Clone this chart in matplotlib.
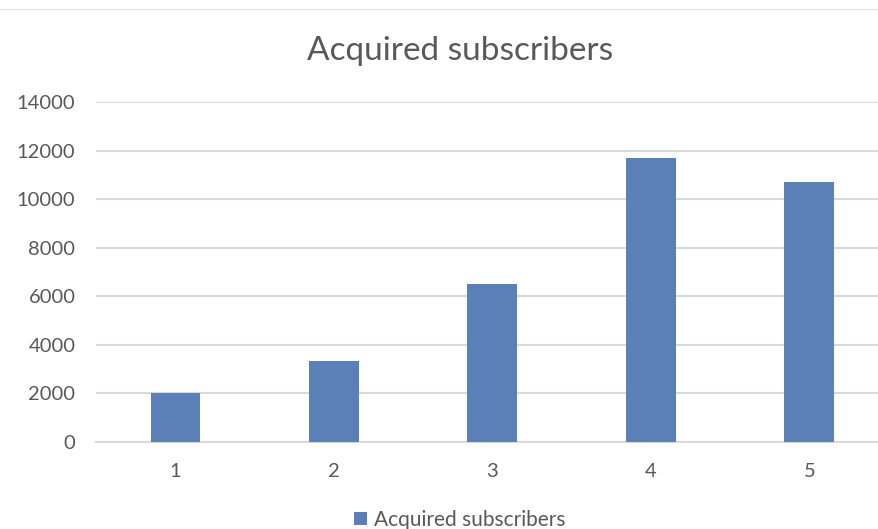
import numpy as np
import matplotlib
matplotlib.use("Agg")
import matplotlib.pyplot as plt

# values
periods = ["1", "2", "3", "4", "5"]
subscribers = [2000, 3320, 6500, 11700, 10700]
yticks = [0, 2000, 4000, 6000, 8000, 10000, 12000, 14000]

plt.rcParams['font.family'] = ['Lato', 'DejaVu Sans']
txt = '#595959'
grid = '#d9d9d9'
bar_col = '#5b80b8'

fig = plt.figure(figsize=(8.79, 5.29), dpi=100)
ax = fig.add_axes([0.1095, 0.165, 0.9015, 0.642])

x = np.arange(len(periods))
bars = ax.bar(x, subscribers, width=0.315, color=bar_col, zorder=3,
              label="Acquired subscribers")

ax.set_xlim(-0.5, len(periods) - 0.5)
ax.set_ylim(0, 14000)
ax.set_yticks(yticks)
ax.set_yticklabels([str(t) for t in yticks])
ax.set_xticks(x)
ax.set_xticklabels(periods)

ax.yaxis.grid(True, color=grid, linewidth=1.5, zorder=0)
for s in ['top', 'right', 'left']:
    ax.spines[s].set_visible(False)
ax.spines['bottom'].set_color(grid)
ax.spines['bottom'].set_linewidth(1.5)
ax.tick_params(axis='both', length=0, labelsize=14.5, colors=txt)
ax.tick_params(axis='y', pad=15)
ax.tick_params(axis='x', pad=15)

fig.text(0.523, 0.903, "Acquired subscribers", ha='center', va='center',
         fontsize=24, color=txt)

fig.legend(handles=[bars], loc='center', bbox_to_anchor=(0.523, 0.017),
           frameon=False, fontsize=15, labelcolor=txt,
           handlelength=0.6, handleheight=0.6, handletextpad=0.35)

# thin chart border line near the top
fig.add_artist(plt.Line2D([0, 1], [0.983, 0.983], color='#e6e6e6', linewidth=1))

fig.savefig("out.png", dpi=100)
